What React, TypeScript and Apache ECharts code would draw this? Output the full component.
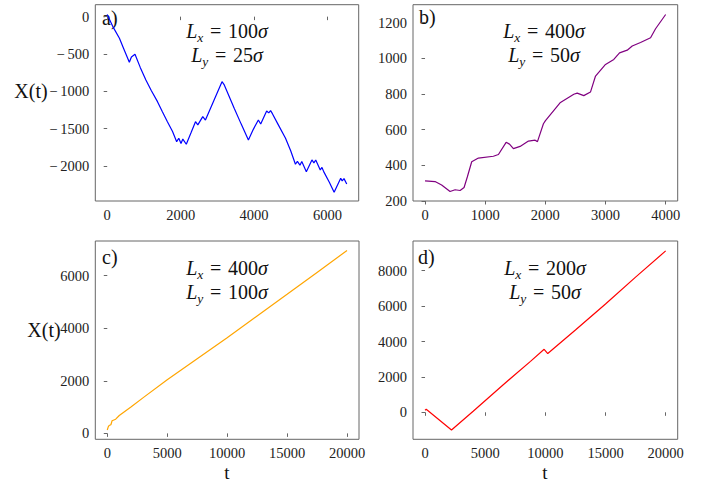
import React, { useEffect, useRef } from "react";
import * as echarts from "echarts";

// Panel a
const tA = [0, 150, 333, 450, 603, 660, 757, 900, 1054, 1200, 1370, 1500, 1640, 1780, 1892, 1950, 2010, 2060, 2154, 2280, 2405, 2468, 2603, 2676, 2900, 3127, 3189, 3459, 3650, 3846, 3980, 4117, 4181, 4343, 4400, 4450, 4500, 4650, 4857, 5000, 5127, 5180, 5250, 5300, 5424, 5576, 5630, 5680, 5803, 5850, 5900, 6050, 6181, 6360, 6400, 6450, 6524];
const xA = [30, -130, -290, -430, -611, -540, -504, -680, -848, -990, -1139, -1270, -1407, -1540, -1675, -1630, -1700, -1640, -1710, -1560, -1407, -1450, -1340, -1385, -1130, -871, -915, -1228, -1440, -1652, -1510, -1384, -1438, -1264, -1290, -1260, -1300, -1440, -1630, -1800, -1978, -1940, -1990, -1940, -2077, -1920, -1960, -1920, -2054, -2020, -2080, -2220, -2353, -2165, -2200, -2170, -2242];

// Panel b
const tB = [0, 166, 276, 416, 500, 583, 649, 704, 776, 887, 1136, 1220, 1348, 1404, 1469, 1580, 1719, 1830, 1869, 1968, 2002, 2251, 2473, 2529, 2639, 2750, 2834, 3000, 3138, 3233, 3361, 3444, 3582, 3749, 3832, 4000];
const xB = [312, 308, 289, 252, 262, 258, 275, 335, 419, 440, 450, 460, 528, 518, 493, 505, 535, 540, 532, 632, 650, 752, 798, 804, 790, 810, 900, 965, 993, 1030, 1045, 1068, 1088, 1115, 1165, 1245];

// Panel c
const tC = [0, 80, 150, 300, 400, 700, 1000, 2000, 3000, 5000, 7500, 10000, 12500, 15000, 17500, 20000];
const xC = [130, 250, 300, 330, 480, 540, 680, 1010, 1360, 2040, 2840, 3640, 4470, 5290, 6120, 6960];

// Panel d
const tD = [0, 100, 150, 2200, 4000, 6500, 8764, 9900, 10200, 12500, 15000, 17500, 20000];
const xD = [120, 170, 140, -1000, 60, 1560, 2880, 3560, 3320, 4650, 6120, 7640, 9120];

// Tick labels
const ticksXA = [0, 2000, 4000, 6000];
const ticksYA = [0, -500, -1000, -1500, -2000];
const ticksXB = [0, 1000, 2000, 3000, 4000];
const ticksYB = [200, 400, 600, 800, 1000, 1200];
const ticksXC = [0, 5000, 10000, 15000, 20000];
const ticksYC = [0, 2000, 4000, 6000];
const ticksXD = [0, 5000, 10000, 15000, 20000];
const ticksYD = [0, 2000, 4000, 6000, 8000];

const panelLabels = ["a)", "b)", "c)", "d)"];
const lxValues = ["100", "400", "400", "200"];
const lyValues = ["25", "50", "100", "50"];
const colors = ["#0000ff", "#800080", "#ffa500", "#ff0000"];

const FONT = "Liberation Serif";

const zip = (t: number[], x: number[]) => t.map((v, i) => [v, x[i]]);

export default function App() {
  const ref = useRef<HTMLDivElement>(null);
  useEffect(() => {
    if (!ref.current) return;
    const chart = echarts.init(ref.current, undefined, { renderer: "svg" });
    const grids = [
      { left: 95.3, top: 4.7, width: 263.4, height: 196.3 },
      { left: 413, top: 4.7, width: 264.7, height: 196.3 },
      { left: 95.3, top: 241, width: 263.7, height: 198.3 },
      { left: 413, top: 241, width: 264.7, height: 198.3 },
    ].map((g) => ({ ...g, show: true, borderColor: "#666", borderWidth: 1, backgroundColor: "transparent" }));

    const ranges = [
      { x: [-324, 6850], y: [-2470, 160], tx: ticksXA, ty: ticksYA },
      { x: [-200, 4200], y: [199, 1300], tx: ticksXB, ty: ticksYB },
      { x: [-1000, 21000], y: [-225, 7320], tx: ticksXC, ty: ticksYC },
      { x: [-1000, 21000], y: [-1525, 9680], tx: ticksXD, ty: ticksYD },
    ];
    const fmt = (v: number) => (v < 0 ? "\u2212\u2009" + Math.abs(v) : String(v));
    const mkAxis = (vals: number[], i: number, range: number[]) => ({
      type: "value",
      gridIndex: i,
      min: range[0],
      max: range[1],
      splitLine: { show: false },
      axisLine: { show: false },
      axisTick: { show: true, inside: false, length: 3.5, lineStyle: { color: "#666", width: 1 }, customValues: vals },
      axisLabel: { customValues: vals, formatter: fmt, color: "#222", fontFamily: FONT, fontSize: 14.5, margin: 6 },
    });
    const xAxis = ranges.map((r, i) => mkAxis(r.tx, i, r.x));
    const yAxis = ranges.map((r, i) => mkAxis(r.ty, i, r.y));
    const datas = [zip(tA, xA), zip(tB, xB), zip(tC, xC), zip(tD, xD)];
    const series = datas.map((d, i) => ({
      type: "line",
      xAxisIndex: i,
      yAxisIndex: i,
      data: d,
      showSymbol: false,
      lineStyle: { color: colors[i], width: 1.2 },
    }));

    const rich = {
      i: { fontFamily: FONT, fontStyle: "italic", fontSize: 20, lineHeight: 27, verticalAlign: "middle", fill: "#111" },
      n: { fontFamily: FONT, fontSize: 20, lineHeight: 27, verticalAlign: "middle", fill: "#111" },
      s: { fontFamily: FONT, fontStyle: "italic", fontSize: 13.5, lineHeight: 13.5, verticalAlign: "bottom", fill: "#111" },
    };
    const formulaPos = [
      [227, 31, 55],
      [544, 31, 55],
      [227, 268, 292],
      [545, 268, 292],
    ];
    const labelPos = [
      [102, 18],
      [419, 17],
      [102, 257],
      [418, 257],
    ];
    const graphic: any[] = [];
    for (let i = 0; i < 4; i++) {
      graphic.push({
        type: "text",
        x: labelPos[i][0],
        y: labelPos[i][1],
        style: { text: panelLabels[i], fontFamily: FONT, fontSize: 20, fill: "#111", textAlign: "left", textVerticalAlign: "middle" },
      });
      graphic.push({
        type: "text",
        x: formulaPos[i][0],
        y: formulaPos[i][1],
        style: { text: `{i|L}{s|x}{n|\u2004=\u2004${lxValues[i]}}{i|σ}`, rich, textAlign: "center", textVerticalAlign: "middle" },
      });
      graphic.push({
        type: "text",
        x: formulaPos[i][0],
        y: formulaPos[i][2],
        style: { text: `{i|L}{s|y}{n|\u2004=\u2004${lyValues[i]}}{i|σ}`, rich, textAlign: "center", textVerticalAlign: "middle" },
      });
    }
    // axis titles
    const big = { fontFamily: FONT, fontSize: 20, fill: "#111", textAlign: "center", textVerticalAlign: "middle" };
    graphic.push({ type: "text", x: 31, y: 91, style: { ...big, text: "X(t)" } });
    graphic.push({ type: "text", x: 44, y: 330, style: { ...big, text: "X(t)" } });
    graphic.push({ type: "text", x: 227, y: 472, style: { ...big, fontSize: 19, text: "t" } });
    graphic.push({ type: "text", x: 545, y: 472, style: { ...big, fontSize: 19, text: "t" } });

    chart.setOption({
      animation: false,
      backgroundColor: "#ffffff",
      grid: grids,
      xAxis,
      yAxis,
      series,
      graphic,
    });
    return () => chart.dispose();
  }, []);
  return <div ref={ref} style={{ position: "absolute", left: 0, top: 0, width: 707, height: 481 }} />;
}
